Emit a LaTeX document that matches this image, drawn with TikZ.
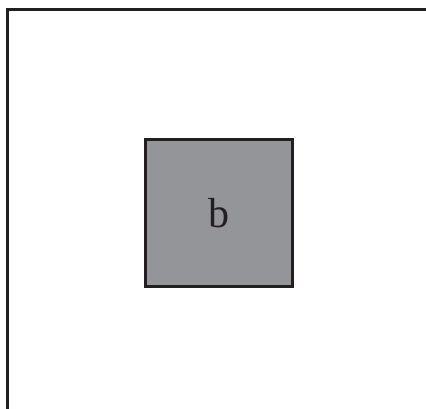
\documentclass[tikz,border=0pt]{standalone}
\usepackage{fontspec}
\setmainfont{Liberation Serif}
\definecolor{boxgray}{HTML}{939598}
\definecolor{ink}{HTML}{231F20}
\begin{document}
\begin{tikzpicture}[x=1pt,y=-1pt,
  frame/.style={draw=ink,line width=3pt},
  sq/.style={draw=ink,line width=3pt,fill=boxgray,minimum size=147pt,inner sep=0pt,font=\fontsize{42}{42}\selectfont,text=ink}]
\useasboundingbox (0,0) rectangle (426,409);
\draw[frame] (7.5,409) -- (7.5,9.5) -- (426,9.5);
\node[sq] (b) at (218.5,212.8) {b};
\end{tikzpicture}
\end{document}
